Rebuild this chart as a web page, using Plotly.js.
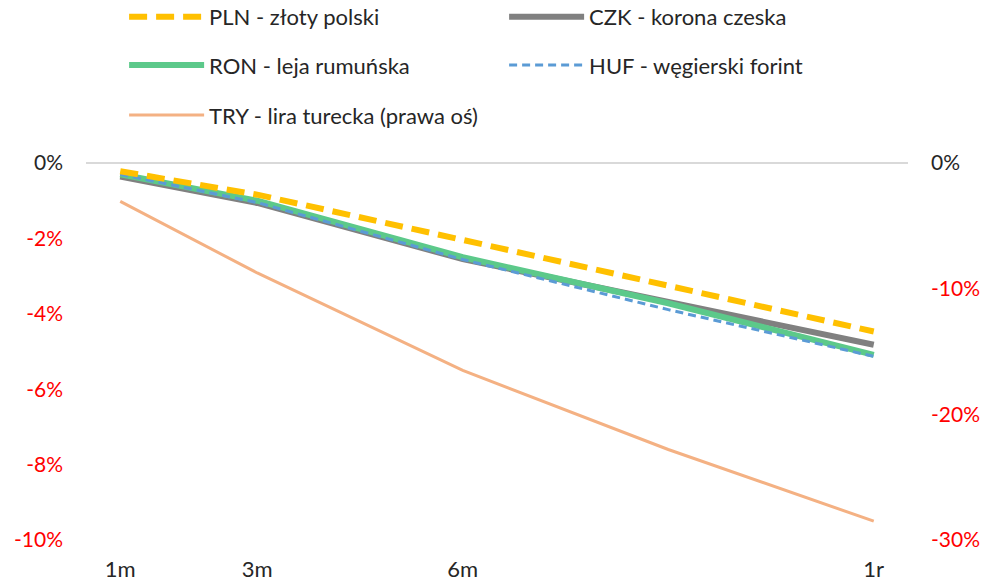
<!DOCTYPE html>
<html>
<head>
<meta charset="utf-8">
<script src="https://cdn.plot.ly/plotly-3.0.1.min.js"></script>
<style>html,body{margin:0;padding:0;background:#fff;}#chart{width:985px;height:582px;}</style>
</head>
<body>
<div id="chart"></div>
<script>
// horizon in months (1r = 12 months)
const months = [1, 3, 6, 9, 12];
const xTickVals = [1, 3, 6, 12];
const xTickText = ['1m', '3m', '6m', '1r'];

// expected change, % (left axis)
const PLN = [-0.22, -0.84, -2.04, -3.27, -4.47];
const CZK = [-0.36, -1.06, -2.55, -3.70, -4.82];
const RON = [-0.30, -1.00, -2.50, -3.72, -5.09];
const HUF = [-0.30, -1.05, -2.56, -3.89, -5.13];
// expected change, % (right axis)
const TRY = [-3.05, -8.75, -16.5, -22.8, -28.5];

const leftTicks = [0, -2, -4, -6, -8, -10];
const rightTicks = [0, -10, -20, -30];

const names = {
  PLN: 'PLN - złoty polski',
  CZK: 'CZK - korona czeska',
  RON: 'RON - leja rumuńska',
  HUF: 'HUF - węgierski forint',
  TRY: 'TRY - lira turecka (prawa oś)'
};

function tickLabel(v) {
  const t = v + '%';
  return v === 0 ? t : '<span style="color:#FF0000">' + t + '</span>';
}

const traces = [
  {x: months, y: TRY, name: names.TRY, yaxis: 'y2', mode: 'lines', legend: 'legend3',
   line: {color: '#F4B183', width: 3}},
  {x: months, y: CZK, name: names.CZK, mode: 'lines', legend: 'legend', legendrank: 2,
   line: {color: '#808080', width: 6}},
  {x: months, y: RON, name: names.RON, mode: 'lines', legend: 'legend2', legendrank: 1,
   line: {color: '#5CC98A', width: 6}},
  {x: months, y: HUF, name: names.HUF, mode: 'lines', legend: 'legend2', legendrank: 2,
   line: {color: '#5B9BD5', width: 3, dash: '8px,5px'}},
  {x: months, y: PLN, name: names.PLN, mode: 'lines', legend: 'legend', legendrank: 1,
   line: {color: '#FFC000', width: 6, dash: '18px,9px'}}
];

const FONT = 'Lato, "Open Sans", sans-serif';
const legendBase = {
  orientation: 'h', xref: 'container', yref: 'container',
  x: 0.126, xanchor: 'left', yanchor: 'middle',
  entrywidth: 290, entrywidthmode: 'pixels', itemwidth: 75,
  font: {family: FONT, size: 22, color: '#262626'},
  bgcolor: 'rgba(0,0,0,0)', traceorder: 'normal'
};

const layout = {
  width: 985, height: 582,
  margin: {l: 86, r: 77, t: 163, b: 42, autoexpand: false},
  paper_bgcolor: '#ffffff', plot_bgcolor: '#ffffff',
  font: {family: FONT, size: 22, color: '#262626'},
  showlegend: true,
  legend: Object.assign({}, legendBase, {y: 0.971}),
  legend2: Object.assign({}, legendBase, {y: 0.888}),
  legend3: Object.assign({}, legendBase, {y: 0.802}),
  xaxis: {
    type: 'linear', range: [0.5, 12.5],
    tickmode: 'array', tickvals: xTickVals, ticktext: xTickText,
    showgrid: false, zeroline: false, showline: false, ticks: '',
    ticklabelstandoff: 14,
    tickfont: {size: 22, color: '#262626'}
  },
  yaxis: {
    range: [-10, 0], tickmode: 'array', tickvals: leftTicks,
    ticktext: leftTicks.map(tickLabel),
    showgrid: false, zeroline: true, zerolinecolor: '#D9D9D9', zerolinewidth: 2,
    showline: false, ticks: '', ticklabelstandoff: 22,
    tickfont: {size: 21, color: '#262626'}
  },
  yaxis2: {
    overlaying: 'y', side: 'right',
    range: [-30, 0], tickmode: 'array', tickvals: rightTicks,
    ticktext: rightTicks.map(tickLabel),
    showgrid: false, zeroline: false, showline: false, ticks: '',
    ticklabelstandoff: 22,
    tickfont: {size: 21, color: '#262626'}
  }
};

Plotly.newPlot('chart', traces, layout, {displayModeBar: false, staticPlot: true});
</script>
</body>
</html>
